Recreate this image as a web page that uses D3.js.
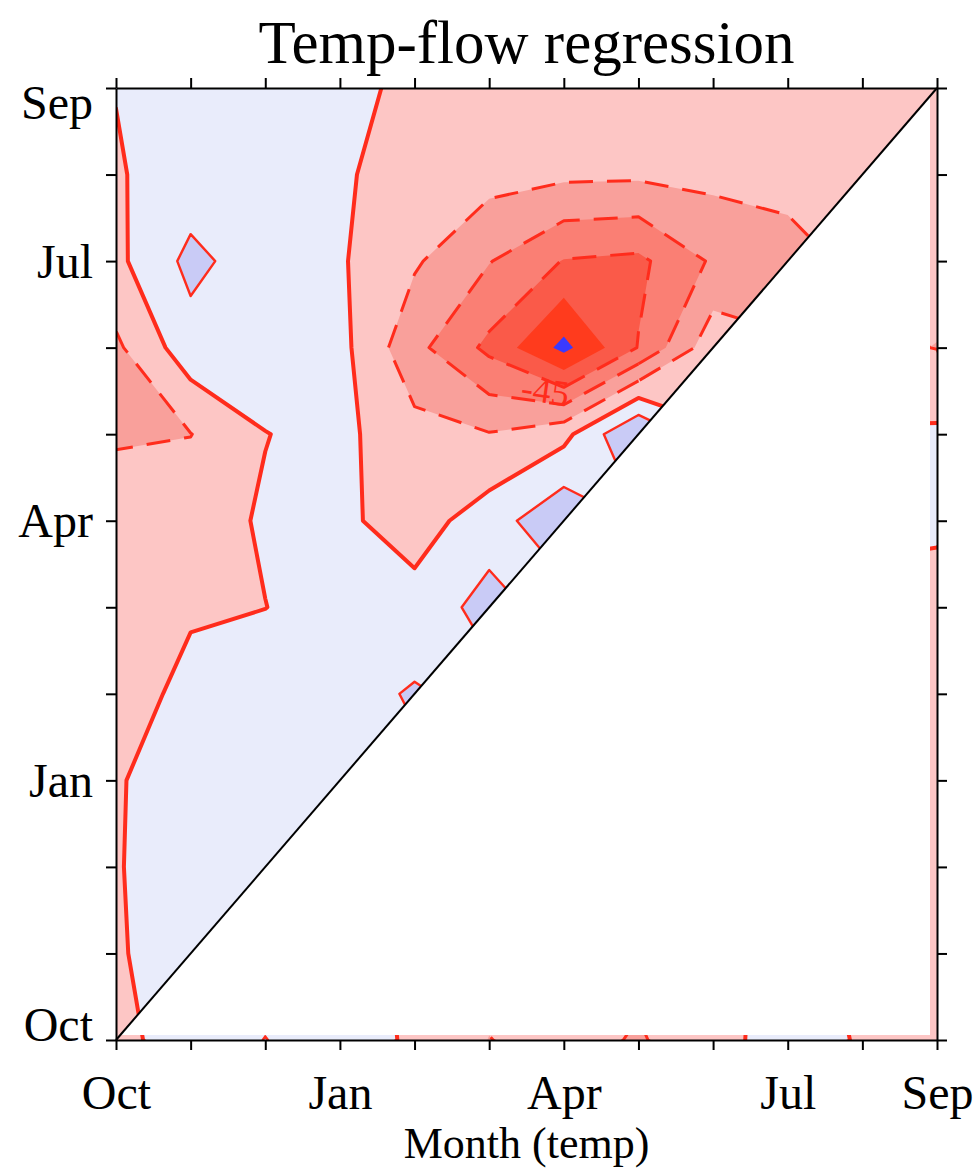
<!DOCTYPE html>
<html>
<head>
<meta charset="utf-8">
<script src="https://cdn.jsdelivr.net/npm/d3@7"></script>
<style>
body { margin: 0; background: #fff; }
svg { display: block; font-family: "Liberation Serif", "Times New Roman", serif; }
</style>
</head>
<body>
<svg id="chart"></svg>
<script>
// months on both axes, Oct .. Sep
var months = ["Oct","Nov","Dec","Jan","Feb","Mar","Apr","May","Jun","Jul","Aug","Sep"];
var tickLabels = ["Oct","Jan","Apr","Jul","Sep"];

// contour levels, band colours (band 0 is below levels[0])
var levels = [-112.5, -90, -67.5, -45, -22.5, 0, 22.5];
var bandColors = ["#3a3aff","#ff3b1d","#fa5a49","#fa7f74","#f9a09b","#fdc6c5","#e9ecfb","#c9cbf6"];
var labelLevel = -45;
var labelAt = [5.75, 7.5];   // month (temp), month (flow)

// regression coefficient grid, first row = Sep (flow), last row = Oct; columns Oct..Sep (temp)
var coef = [
  [  0.5,  11,   11,   11,   -8.8, -11,  -12.4, -13.5, -12.4, -11,  -10,  -9  ],
  [ -1.6,   9,   11,    5.6, -18.9, -14.2, -18, -18.7, -16.4, -12.6, -13.5, -11.2],
  [ -5.4,  28.6, 10.1,  2.4, -19.7, -43.9, -68.6, -72.5, -41.9, -33.8, -15.1, -15.8],
  [-26.6,  13.5, 11.2,  7,   -38.3, -72.9, -119, -66.4,  -7.9, -20.3, -18,  -23 ],
  [-25,   -23,   -0.45, 5.6, -15.1, -21.4,  -6.8,  47.9,  1.1,   2,     2.2,  3.4],
  [-11.2,  -7.2,  1.8,  4.5, -10.1,  11.5,  41.2,  20.3,  6.8,   6,     5.6,  4.5],
  [-15.8,  -4.5, -0.2,  6.8,   8.3,  30.8,  12.4,   5,    3,    -1,    -6.8, -10.1],
  [-18.7,  11,   10.1, 13.5,  24.8,  15.4,  10,     5,   -2,    -5,    -9,  -11.2],
  [ -2.2,  13.5, 12.4, 11.2,  18,    12,     8,     2,   -4,    -6,    -9,  -11.2],
  [ -1.6,  13.5, 11.2, 11.2,  10,     2,    -5,    -8,   -6,    -3,    -9,  -11.2],
  [ -2.2,  11.2, 11.2,  9,    -4.5, -13.5, -11.2, -15.8, -6.8,   6.8,  -4.5, -11.2],
  [ -4.5,   7.9, 23,    9,    -2.7, -23,   -13.5, -24.8, -6.8,   9,    -1.8, -11.2]
];

var screen = {width: 980, height: 1168};
var plot = {left: 116, right: 937, top: 88, bottom: 1040};
var n = months.length;

var svg = d3.select("#chart")
            .attr("width", screen.width)
            .attr("height", screen.height);

var xScale = d3.scaleLinear().domain([0, n - 1]).range([plot.left, plot.right]);
var yScale = d3.scaleLinear().domain([0, n - 1]).range([plot.bottom, plot.top]);

// grid point (col, row) sits at contour coords (col+0.5, row+0.5)
var proj = d3.geoTransform({
  point: function(x, y) {
    this.stream.point(xScale(x - 0.5), yScale(n - 0.5 - y));
  }
});
var path = d3.geoPath(proj);

var contours = d3.contours()
                 .size([n, n])
                 .thresholds(levels)(coef.flat());

svg.append("clipPath").attr("id", "plotclip")
   .append("rect")
   .attr("x", plot.left).attr("y", plot.top)
   .attr("width", plot.right - plot.left)
   .attr("height", plot.bottom - plot.top);

var field = svg.append("g").attr("clip-path", "url(#plotclip)");

// lowest band everywhere, then each band on top
field.append("rect")
     .attr("x", plot.left).attr("y", plot.top)
     .attr("width", plot.right - plot.left)
     .attr("height", plot.bottom - plot.top)
     .attr("fill", bandColors[0]);

field.selectAll("path.band")
     .data(contours)
     .enter()
     .append("path")
     .attr("class", "band")
     .attr("d", path)
     .attr("fill", function(d, i) { return bandColors[i + 1]; });

// contour lines: zero thick, positive thin, negative dashed
var lineLevels = contours.filter(function(c) { return c.value >= -67.5; });

field.selectAll("path.line")
     .data(lineLevels)
     .enter()
     .append("path")
     .attr("class", "line")
     .attr("d", path)
     .attr("fill", "none")
     .attr("stroke", "#ff2c1c")
     .attr("stroke-linejoin", "round")
     .attr("stroke-width", function(c) {
        if (c.value == 0) return 4;
        return c.value > 0 ? 2.4 : 3;
     })
     .attr("stroke-dasharray", function(c) {
        return c.value < 0 ? "24,14" : null;
     });

// lower triangle is left blank, except thin strips along the right and bottom edges
var mask = [
  [xScale(0), yScale(0)],
  [xScale(n - 1), yScale(n - 1)],
  [xScale(n - 1) - 7, yScale(n - 1) + 8],
  [xScale(n - 1) - 7, yScale(0) - 5],
  [xScale(0) + 4, yScale(0) - 5]
];
svg.append("polygon")
   .attr("points", mask.map(function(p) { return p.join(","); }).join(" "))
   .attr("fill", "#fff");

svg.append("line")
   .attr("x1", xScale(0)).attr("y1", yScale(0))
   .attr("x2", xScale(n - 1)).attr("y2", yScale(n - 1))
   .attr("stroke", "#000")
   .attr("stroke-width", 2);

svg.append("text")
   .attr("transform", "translate(" + xScale(labelAt[0]) + "," + yScale(labelAt[1]) + ") rotate(8)")
   .attr("text-anchor", "middle")
   .attr("dominant-baseline", "central")
   .attr("font-size", 36)
   .attr("fill", "#ff2c1c")
   .text(labelLevel);

// axes
var ticks = d3.range(n);
var showLabel = function(d) {
  return tickLabels.indexOf(months[d]) >= 0 ? months[d] : "";
};

var xAxis = svg.append("g")
   .attr("transform", "translate(0," + plot.bottom + ")")
   .call(d3.axisBottom(xScale).tickValues(ticks).tickSize(10).tickSizeOuter(0).tickFormat(showLabel));
xAxis.selectAll("text").attr("y", 69).attr("dy", null);

var yAxis = svg.append("g")
   .attr("transform", "translate(" + plot.left + ",0)")
   .call(d3.axisLeft(yScale).tickValues(ticks).tickSize(10).tickSizeOuter(0).tickFormat(showLabel));
yAxis.selectAll("text")
   .attr("x", -23)
   .attr("dy", null)
   .attr("y", function(d) {
      if (d == 0) return 0;
      if (d == n - 1) return 30;
      return 16;
   });

svg.append("g")
   .attr("transform", "translate(0," + plot.top + ")")
   .call(d3.axisTop(xScale).tickValues(ticks).tickSize(10).tickSizeOuter(0).tickFormat(""));

svg.append("g")
   .attr("transform", "translate(" + plot.right + ",0)")
   .call(d3.axisRight(yScale).tickValues(ticks).tickSize(10).tickSizeOuter(0).tickFormat(""));

svg.selectAll(".domain").attr("stroke-width", 2);
svg.selectAll(".tick line").attr("stroke-width", 2);
svg.selectAll(".tick text")
   .attr("font-family", "Liberation Serif, serif")
   .attr("font-size", 48)
   .attr("fill", "#000");

svg.append("text")
   .attr("x", (plot.left + plot.right) / 2)
   .attr("y", 63)
   .attr("text-anchor", "middle")
   .attr("font-size", 61)
   .text("Temp-flow regression");

svg.append("text")
   .attr("x", (plot.left + plot.right) / 2)
   .attr("y", 1158)
   .attr("text-anchor", "middle")
   .attr("font-size", 44)
   .text("Month (temp)");
</script>
</body>
</html>
